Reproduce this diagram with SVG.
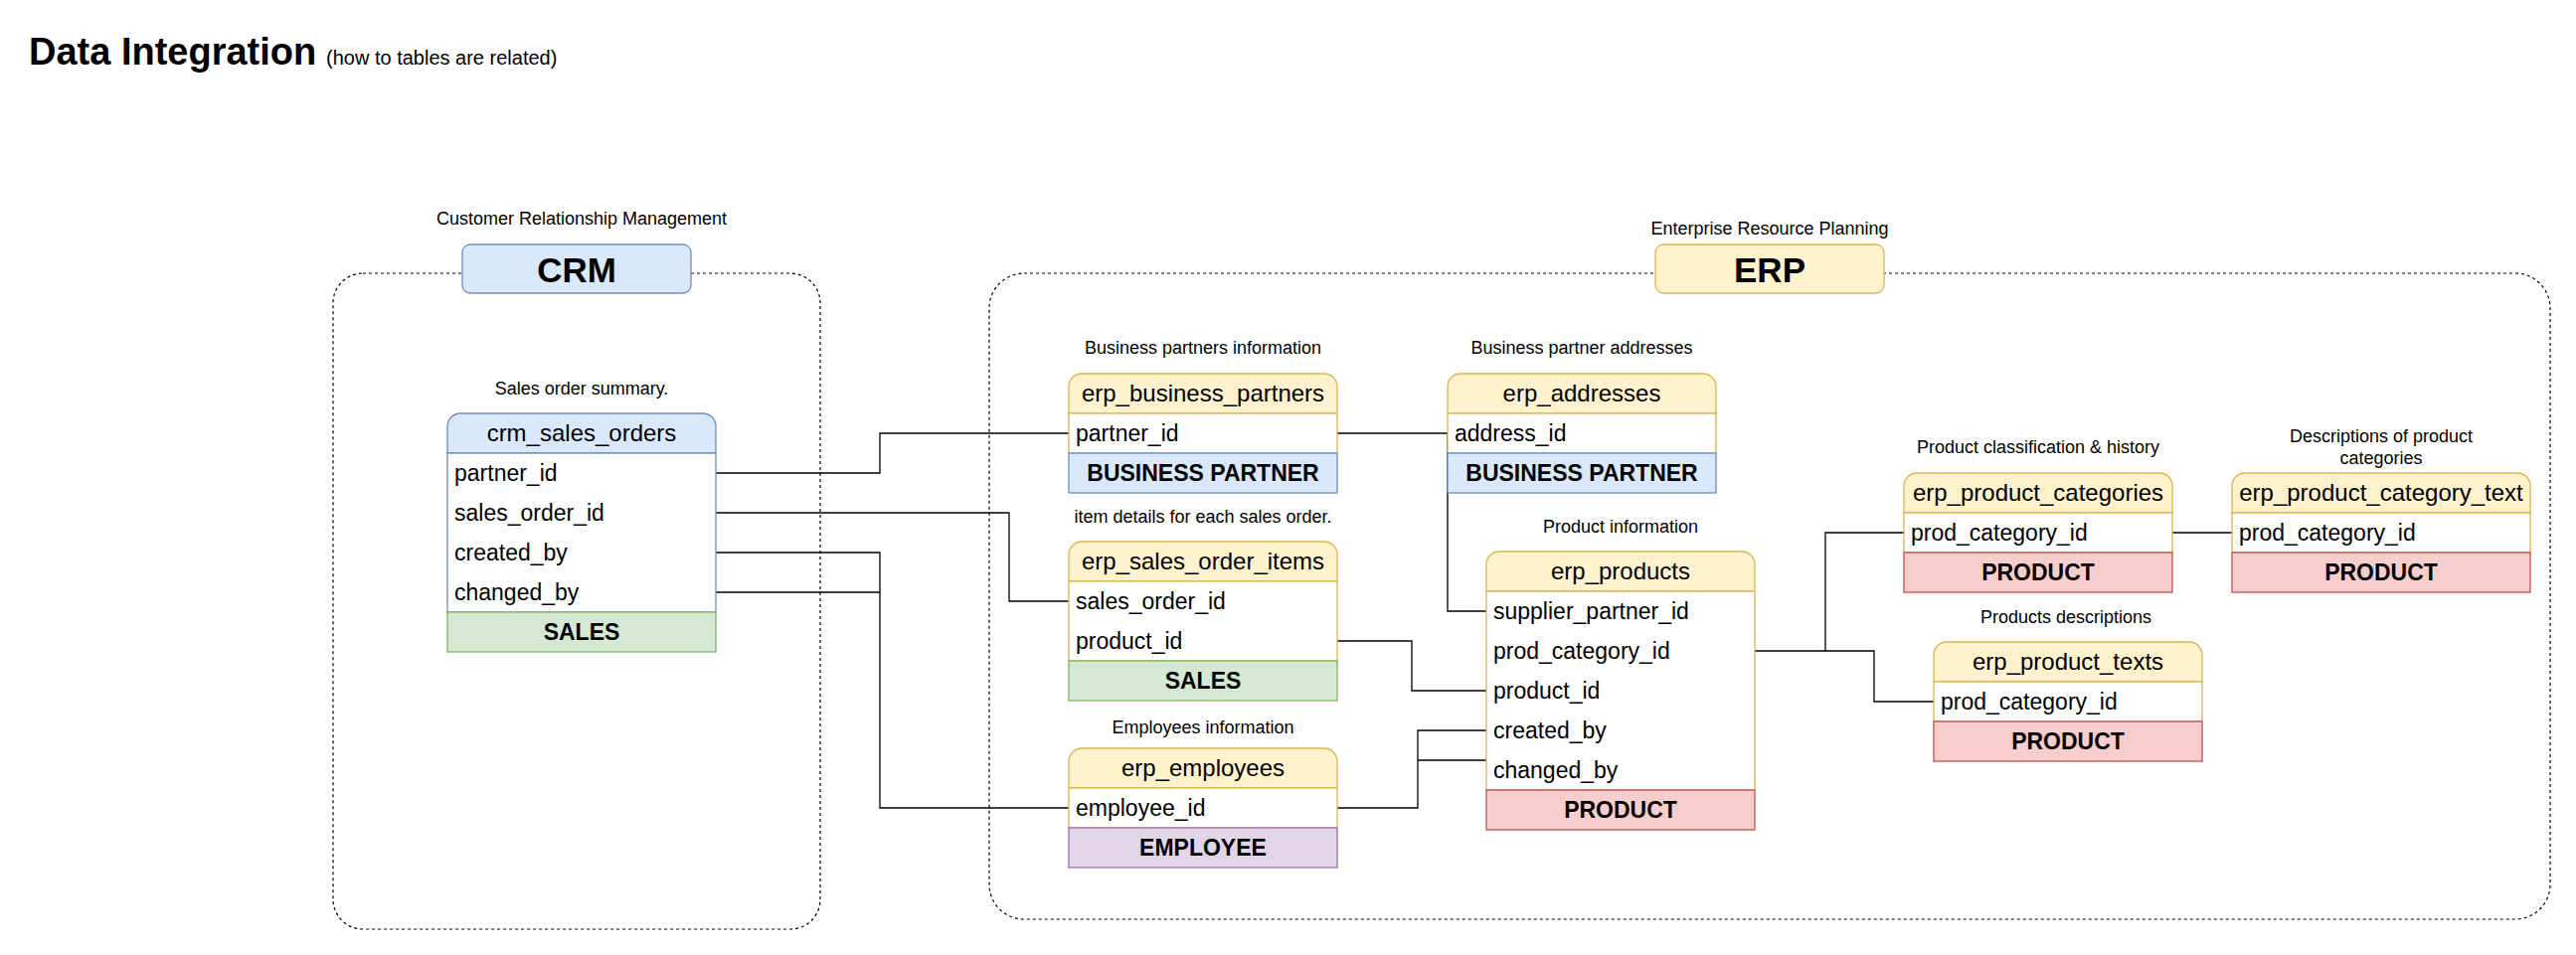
<svg xmlns="http://www.w3.org/2000/svg" width="2591" height="961" viewBox="0 0 2591 961">
<style>
text{font-family:"Liberation Sans",Arial,sans-serif;fill:#000}
.lbl{font-size:18px;text-anchor:middle}
.hdr{font-size:24px;text-anchor:middle}
.row{font-size:23px}
.ftr{font-size:23px;font-weight:bold;text-anchor:middle}
.cont{fill:none;stroke:#000;stroke-width:1.2;stroke-dasharray:3 3}
.body{fill:#fff}
.y{fill:#fff2cc;stroke:#d6b656;stroke-width:1.3}
.yb{stroke:#d6b656;stroke-width:1.3}
.b{fill:#dae8fc;stroke:#6c8ebf;stroke-width:1.3}
.bb{stroke:#6c8ebf;stroke-width:1.3}
.g{fill:#d5e8d4;stroke:#82b366;stroke-width:1.3}
.r{fill:#f8cecc;stroke:#b85450;stroke-width:1.3}
.p{fill:#e1d5e7;stroke:#9673a6;stroke-width:1.3}
.conn path{fill:none;stroke:#000;stroke-width:1.3}
</style>

<g id="title">
<text x="29" y="65" style="font-size:38px;font-weight:bold">Data Integration</text>
<text x="328" y="65" style="font-size:20px">(how to tables are related)</text>
</g>

<g id="crm-container">
<rect class="cont" x="335" y="275" width="490" height="660" rx="30"/>
<text class="lbl" x="585" y="226">Customer Relationship Management</text>
<rect class="b" x="465" y="246" width="230" height="49" rx="8"/>
<text x="580" y="284" style="font-size:35px;font-weight:bold;text-anchor:middle">CRM</text>
</g>

<g id="erp-container">
<rect class="cont" x="995" y="275" width="1570" height="650" rx="35"/>
<text class="lbl" x="1780" y="236">Enterprise Resource Planning</text>
<rect class="y" x="1665" y="246" width="230" height="49" rx="8"/>
<text x="1780" y="284" style="font-size:35px;font-weight:bold;text-anchor:middle">ERP</text>
</g>

<g class="conn" id="connectors">
<path d="M720,476 H885 V436 H1075"/>
<path d="M720,516 H1015 V605 H1075"/>
<path d="M720,556 H885 V813 H1075"/>
<path d="M720,596 H885"/>
<path d="M1345,436 H1456"/>
<path d="M1456,436 V615 H1495"/>
<path d="M1345,645 H1420 V695 H1495"/>
<path d="M1345,813 H1426 V735 H1495"/>
<path d="M1426,765 H1495"/>
<path d="M1765,655 H1836 V536 H1915"/>
<path d="M1836,655 H1885 V706 H1945"/>
<path d="M2185,536 H2245"/>
</g>

<g id="crm_sales_orders">
<text class="lbl" x="585" y="397">Sales order summary.</text>
<path class="b" d="M450,456 V429 A13,13 0 0 1 463,416 H707 A13,13 0 0 1 720,429 V456 Z"/>
<rect class="body bb" x="450" y="456" width="270" height="160"/>
<rect class="g" x="450" y="616" width="270" height="40"/>
<text class="hdr" x="585" y="444">crm_sales_orders</text>
<text class="row" x="457" y="484">partner_id</text>
<text class="row" x="457" y="524">sales_order_id</text>
<text class="row" x="457" y="564">created_by</text>
<text class="row" x="457" y="604">changed_by</text>
<text class="ftr" x="585" y="644">SALES</text>
</g>

<g id="erp_business_partners">
<text class="lbl" x="1210" y="356">Business partners information</text>
<path class="y" d="M1075,416 V389 A13,13 0 0 1 1088,376 H1332 A13,13 0 0 1 1345,389 V416 Z"/>
<rect class="body yb" x="1075" y="416" width="270" height="40"/>
<rect class="b" x="1075" y="456" width="270" height="40"/>
<text class="hdr" x="1210" y="404">erp_business_partners</text>
<text class="row" x="1082" y="444">partner_id</text>
<text class="ftr" x="1210" y="484">BUSINESS PARTNER</text>
</g>

<g id="erp_addresses">
<text class="lbl" x="1591" y="356">Business partner addresses</text>
<path class="y" d="M1456,416 V389 A13,13 0 0 1 1469,376 H1713 A13,13 0 0 1 1726,389 V416 Z"/>
<rect class="body yb" x="1456" y="416" width="270" height="40"/>
<rect class="b" x="1456" y="456" width="270" height="40"/>
<text class="hdr" x="1591" y="404">erp_addresses</text>
<text class="row" x="1463" y="444">address_id</text>
<text class="ftr" x="1591" y="484">BUSINESS PARTNER</text>
</g>

<g id="erp_sales_order_items">
<text class="lbl" x="1210" y="526">item details for each sales order.</text>
<path class="y" d="M1075,585 V558 A13,13 0 0 1 1088,545 H1332 A13,13 0 0 1 1345,558 V585 Z"/>
<rect class="body yb" x="1075" y="585" width="270" height="80"/>
<rect class="g" x="1075" y="665" width="270" height="40"/>
<text class="hdr" x="1210" y="573">erp_sales_order_items</text>
<text class="row" x="1082" y="613">sales_order_id</text>
<text class="row" x="1082" y="653">product_id</text>
<text class="ftr" x="1210" y="693">SALES</text>
</g>

<g id="erp_employees">
<text class="lbl" x="1210" y="738">Employees information</text>
<path class="y" d="M1075,793 V766 A13,13 0 0 1 1088,753 H1332 A13,13 0 0 1 1345,766 V793 Z"/>
<rect class="body yb" x="1075" y="793" width="270" height="40"/>
<rect class="p" x="1075" y="833" width="270" height="40"/>
<text class="hdr" x="1210" y="781">erp_employees</text>
<text class="row" x="1082" y="821">employee_id</text>
<text class="ftr" x="1210" y="861">EMPLOYEE</text>
</g>

<g id="erp_products">
<text class="lbl" x="1630" y="536">Product information</text>
<path class="y" d="M1495,595 V568 A13,13 0 0 1 1508,555 H1752 A13,13 0 0 1 1765,568 V595 Z"/>
<rect class="body yb" x="1495" y="595" width="270" height="200"/>
<rect class="r" x="1495" y="795" width="270" height="40"/>
<text class="hdr" x="1630" y="583">erp_products</text>
<text class="row" x="1502" y="623">supplier_partner_id</text>
<text class="row" x="1502" y="663">prod_category_id</text>
<text class="row" x="1502" y="703">product_id</text>
<text class="row" x="1502" y="743">created_by</text>
<text class="row" x="1502" y="783">changed_by</text>
<text class="ftr" x="1630" y="823">PRODUCT</text>
</g>

<g id="erp_product_categories">
<text class="lbl" x="2050" y="456">Product classification &amp; history</text>
<path class="y" d="M1915,516 V489 A13,13 0 0 1 1928,476 H2172 A13,13 0 0 1 2185,489 V516 Z"/>
<rect class="body yb" x="1915" y="516" width="270" height="40"/>
<rect class="r" x="1915" y="556" width="270" height="40"/>
<text class="hdr" x="2050" y="504">erp_product_categories</text>
<text class="row" x="1922" y="544">prod_category_id</text>
<text class="ftr" x="2050" y="584">PRODUCT</text>
</g>

<g id="erp_product_category_text">
<text class="lbl" x="2395" y="445">Descriptions of product</text>
<text class="lbl" x="2395" y="467">categories</text>
<path class="y" d="M2245,516 V489 A13,13 0 0 1 2258,476 H2532 A13,13 0 0 1 2545,489 V516 Z"/>
<rect class="body yb" x="2245" y="516" width="300" height="40"/>
<rect class="r" x="2245" y="556" width="300" height="40"/>
<text class="hdr" x="2395" y="504">erp_product_category_text</text>
<text class="row" x="2252" y="544">prod_category_id</text>
<text class="ftr" x="2395" y="584">PRODUCT</text>
</g>

<g id="erp_product_texts">
<text class="lbl" x="2078" y="627">Products descriptions</text>
<path class="y" d="M1945,686 V659 A13,13 0 0 1 1958,646 H2202 A13,13 0 0 1 2215,659 V686 Z"/>
<rect class="body yb" x="1945" y="686" width="270" height="40"/>
<rect class="r" x="1945" y="726" width="270" height="40"/>
<text class="hdr" x="2080" y="674">erp_product_texts</text>
<text class="row" x="1952" y="714">prod_category_id</text>
<text class="ftr" x="2080" y="754">PRODUCT</text>
</g>
</svg>
